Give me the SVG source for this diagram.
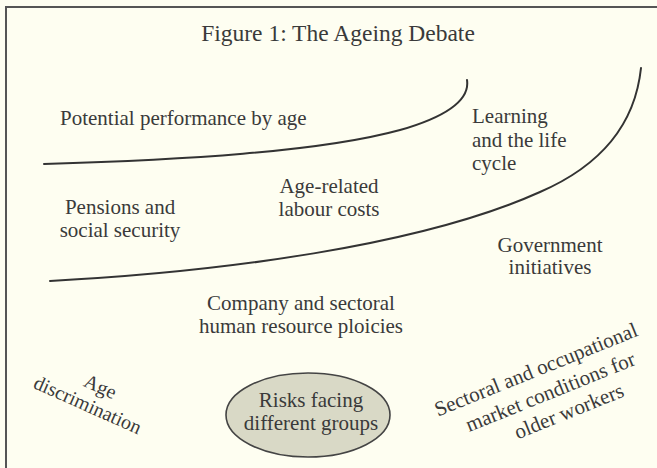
<svg xmlns="http://www.w3.org/2000/svg" width="657" height="468" viewBox="0 0 657 468">
  <style>
    .lbl { font-family: "Liberation Serif", "Times New Roman", serif; font-size: 21px; fill: #3a3a3a; }
    .mid { text-anchor: middle; }
    .curve { fill: none; stroke: #333; stroke-width: 2; stroke-linecap: round; }
    .frame { stroke: #555; stroke-width: 2; fill: none; }
  </style>
  <rect width="657" height="468" fill="#fefef1"/>
  <!-- frame: top and left rules -->
  <path class="frame" d="M6,468 V7 H657"/>

  <text class="lbl mid" x="338" y="41" style="font-size:23.5px">Figure 1: The Ageing Debate</text>

  <g id="connectors">
    <path class="curve" d="M44,164 C 180,160 320,152 400,130 C 445,117 470,100 467,80"/>
    <path class="curve" d="M50,281 C 220,272 420,246 540,192 C 600,166 635,125 641,68"/>
  </g>

  <g id="potential-performance">
    <text class="lbl" x="60" y="125">Potential performance by age</text>
  </g>
  <g id="learning">
    <text class="lbl" x="472" y="123">Learning</text>
    <text class="lbl" x="472" y="147">and the life</text>
    <text class="lbl" x="472" y="170">cycle</text>
  </g>
  <g id="pensions">
    <text class="lbl mid" x="120" y="214">Pensions and</text>
    <text class="lbl mid" x="120" y="237">social security</text>
  </g>
  <g id="labour-costs">
    <text class="lbl mid" x="329" y="193">Age-related</text>
    <text class="lbl mid" x="329" y="216">labour costs</text>
  </g>
  <g id="government">
    <text class="lbl mid" x="550" y="252">Government</text>
    <text class="lbl mid" x="550" y="274">initiatives</text>
  </g>
  <g id="hr-policies">
    <text class="lbl mid" x="301" y="310">Company and sectoral</text>
    <text class="lbl mid" x="301" y="333">human resource ploicies</text>
  </g>
  <g id="age-discrimination" transform="translate(85,411) rotate(24)">
    <text class="lbl mid" x="4" y="-22" style="font-size:20px">Age</text>
    <text class="lbl mid" x="0" y="0" style="font-size:20px">discrimination</text>
  </g>
  <g id="risks">
    <ellipse cx="308" cy="415" rx="82" ry="42" fill="#d9d9c6" stroke="#444" stroke-width="1.6"/>
    <text class="lbl mid" x="311" y="407">Risks facing</text>
    <text class="lbl mid" x="311" y="430">different groups</text>
  </g>
  <g id="market-conditions" transform="translate(551,399) rotate(-22)">
    <text class="lbl mid" x="-3" y="-26">Sectoral and occupational</text>
    <text class="lbl mid" x="2" y="0">market conditions for</text>
    <text class="lbl mid" x="12" y="25">older workers</text>
  </g>
</svg>
